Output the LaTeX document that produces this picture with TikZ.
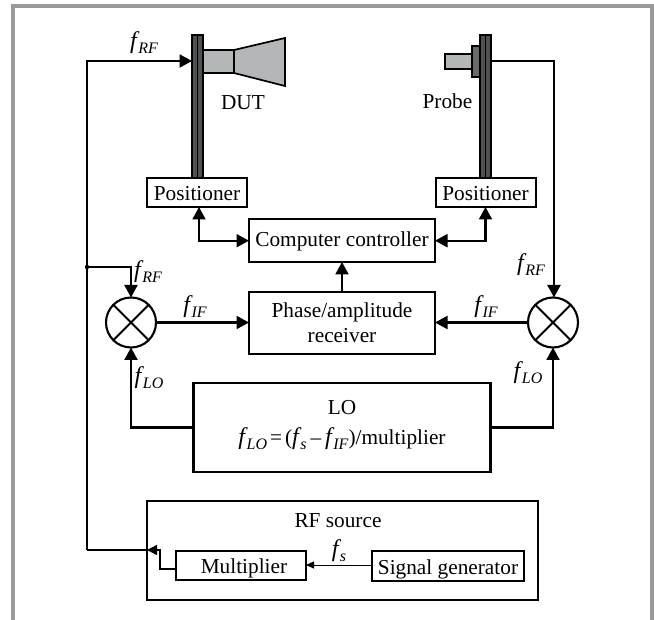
\documentclass[tikz,border=0pt]{standalone}
\usepackage{fontspec}
\setmainfont{Liberation Serif}
\usetikzlibrary{arrows.meta}
\newcommand{\fq}[1]{{\fontsize{24}{24}\selectfont\itshape f}\kern1.5pt\raisebox{-4.5pt}{\fontsize{16}{16}\selectfont\itshape #1}}
\tikzset{
  wire/.style={line width=2.1pt,line join=miter},
  arr/.style={wire,-{Triangle[length=12.5pt,width=13pt]}},
  darr/.style={wire,{Triangle[length=12.5pt,width=13pt]}-{Triangle[length=12.5pt,width=13pt]}},
  thinarr/.style={line width=1pt,-{Triangle[length=8pt,width=7pt]}},
  boxn/.style={draw,line width=2.1pt,fill=white,inner sep=0pt,outer sep=0pt,font=\fontsize{21.3}{24}\selectfont,align=center},
  thinbox/.style={boxn,line width=1.5pt},
  pole/.style={draw,line width=1.6pt,fill=poledark,inner sep=0pt,outer sep=0pt,minimum width=11pt,minimum height=143pt},
  mixer/.style={draw,circle,line width=2.1pt,minimum size=50pt,inner sep=0pt,outer sep=0pt},
  lab/.style={inner sep=0pt,font=\fontsize{21.3}{24}\selectfont},
  frameline/.style={draw=framegray,line width=4pt},
}
\definecolor{framegray}{HTML}{9A9A9A}
\definecolor{poledark}{HTML}{4E5052}
\definecolor{hornfill}{HTML}{B4B7B7}
\begin{document}
\begin{tikzpicture}[x=1pt,y=-1pt]
\useasboundingbox (0,0) rectangle (654,620);
\fill[white] (0,0) rectangle (654,620);
% frame
\coordinate (fa) at (13,620); \coordinate (fb) at (13,6.5); \coordinate (fc) at (652,6.5); \coordinate (fd) at (652,620);
\draw[frameline,miter limit=10] (fa) -- (fb) -- (fc) -- (fd);
% DUT
\node[pole] (dutpole) at (197.5,106.5) {};
\draw[line width=1pt] (dutpole.north) -- (dutpole.south);
\coordinate (g1) at (203,50); \coordinate (g2) at (234,50); \coordinate (g3) at (234,73); \coordinate (g4) at (203,73);
\coordinate (h1) at (285,38); \coordinate (h2) at (285,86);
\draw[line width=1.7pt,fill=hornfill] (g1) -- (g2) -- (g3) -- (g4) -- cycle;
\draw[line width=1.7pt,fill=hornfill] (g2) -- (h1) -- (h2) -- (g3) -- cycle;
\node[lab,anchor=base] (dut) at (243,110) {DUT};
% Probe
\node[pole] (probepole) at (485.5,106.5) {};
\draw[line width=1pt] (probepole.north) -- (probepole.south);
\node[draw,line width=1.6pt,fill=poledark!85!white,minimum width=8pt,minimum height=31pt,inner sep=0pt,outer sep=0pt] (flange) at (476,61.5) {};
\node[draw,line width=1.6pt,fill=hornfill,minimum width=27pt,minimum height=15pt,inner sep=0pt,outer sep=0pt] (waveg) at (458.5,61.5) {};
\node[lab,anchor=base] (probe) at (447.5,109) {Probe};
% boxes
\node[thinbox,line width=2pt,minimum width=100pt,minimum height=29pt,text height=16pt,text depth=0pt] (posl) at (197,192.5) {Positioner};
\node[thinbox,line width=2pt,minimum width=100pt,minimum height=29pt,text height=16pt,text depth=0pt] (posr) at (485.5,192.5) {Positioner};
\node[boxn,minimum width=186pt,minimum height=43pt,text height=16pt,text depth=4pt] (comp) at (342,240.5) {Computer controller};
\node[boxn,minimum width=186pt,minimum height=62pt,anchor=center] (recv) at (342,323) {\raisebox{-7pt}[0pt][0pt]{Phase/amplitude}\\[1pt]\raisebox{-7pt}[0pt][0pt]{receiver}};
\node[boxn,minimum width=297pt,minimum height=89pt] (lo) at (342,427.5) {\raisebox{3pt}[14pt][3pt]{LO}\\[6pt]\raisebox{3pt}[14pt][3pt]{\fq{LO}\kern3pt =\kern3pt (\fq{s}\kern4pt–\kern4pt\fq{IF})/multiplier}};
\node[boxn,minimum width=391pt,minimum height=99pt] (rfs) at (342.5,550.5) {};
\node[lab,anchor=base] (rfst) at (338,527) {RF source};
\node[thinbox,minimum width=130pt,minimum height=29pt,text height=16pt,text depth=0pt] (mult) at (241,565.5) {\kern6pt Multiplier};
\node[thinbox,minimum width=152pt,minimum height=30pt,text height=16pt,text depth=0pt] (sig) at (448,566) {Signal generator};
% mixers
\node[mixer] (ml) at (131,322.5) {};
\draw[line width=2.1pt] (ml.45) -- (ml.225) (ml.135) -- (ml.315);
\node[mixer] (mr) at (553,322.5) {};
\draw[line width=2.1pt] (mr.45) -- (mr.225) (mr.135) -- (mr.315);
% connectors
\coordinate (c1) at (87,61);
\coordinate (c2) at (87,550);
\coordinate (c3) at (160,550);
\coordinate (c4) at (87,267);
\coordinate (c5) at (160,569);
\draw[arr] (c2) -- (c1) -- (c1 -| dutpole.west);
\draw[wire] (rfs.west |- c2) -- (c2);
\draw[wire,line width=1.4pt,-{Triangle[length=10pt,width=10pt]}] (mult.west |- c5) -- (c5) -- (c3) -- (rfs.west |- c3);
\coordinate (c6) at (554,61);
\draw[arr] (c6 -| probepole.east) -- (c6) -- (c6 |- mr.north);
\draw[arr] (c4) -- (c4 -| ml.north) -- (ml.north);
\fill (c4) circle (2.2pt);
\draw[arr] (ml.east) -- (ml.east -| recv.west);
\draw[arr] (mr.west) -- (mr.west -| recv.east);
\draw[arr] (recv.north) -- (comp.south);
\coordinate (c7) at (199,240.7);
\coordinate (c8) at (485.5,240.7);
\draw[darr] (c7 |- posl.south) -- (c7) -- (c7 -| comp.west);
\draw[darr] (c8 |- posr.south) -- (c8) -- (c8 -| comp.east);
\draw[arr] (lo.west) -- (lo.west -| ml.south) -- (ml.south);
\draw[arr] (lo.east) -- (lo.east -| mr.south) -- (mr.south);
\draw[thinarr] (sig.west |- 0,565) -- (mult.east |- 0,565);
% labels
\node[lab] (l1) at (144,43) {\fq{RF}};
\node[lab] (l2) at (148,272) {\fq{RF}};
\node[lab] (l3) at (195,307) {\fq{IF}};
\node[lab] (l4) at (149,378) {\fq{LO}};
\node[lab] (l5) at (531,265) {\fq{RF}};
\node[lab] (l6) at (486,307) {\fq{IF}};
\node[lab] (l7) at (528,373) {\fq{LO}};
\node[lab] (l8) at (339,551) {\fq{s}};
\end{tikzpicture}
\end{document}
